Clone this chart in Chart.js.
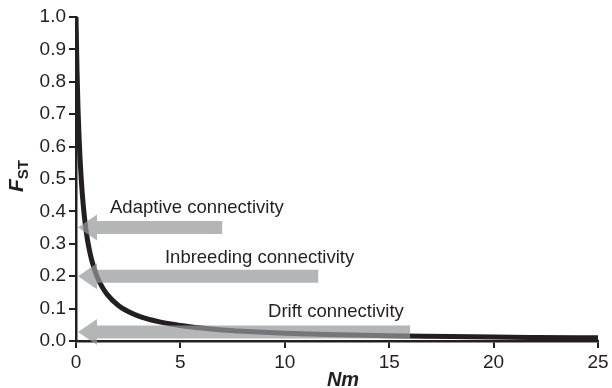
<!DOCTYPE html>
<html lang="en">
<head>
    <meta charset="UTF-8">
    <title>FST vs Nm</title>
    <script src="https://cdn.jsdelivr.net/npm/chart.js"></script>
    <style>
        html, body { margin: 0; padding: 0; background: white; }
        #wrap { width: 612px; height: 388px; }
    </style>
</head>
<body>
<div id="wrap"><canvas id="chart" width="612" height="388"></canvas></div>
<script>
    // curve
    const nmValues  = [0, 0.05, 0.1, 0.15, 0.2, 0.25, 0.3, 0.4, 0.5, 0.6, 0.75, 1, 1.25, 1.5, 2, 2.5, 3, 4, 5, 6, 7, 8, 10, 12, 15, 18, 20, 22, 25];
    const fstValues = [1.0, 0.83, 0.71, 0.625, 0.555, 0.5, 0.455, 0.385, 0.333, 0.294, 0.25, 0.2, 0.167, 0.143, 0.111, 0.091, 0.077, 0.059, 0.048, 0.04, 0.034, 0.03, 0.024, 0.02, 0.016, 0.014, 0.012, 0.011, 0.01];

    // arrows: level on the FST axis and where the shaft ends on Nm
    const arrowLabels = ["Adaptive connectivity", "Inbreeding connectivity", "Drift connectivity"];
    const arrowFst    = [0.35, 0.2, 0.028];
    const arrowEnd    = [7, 11.6, 16];
    const labelNm     = [1.63, 4.26, 9.2];
    const labelFst    = [0.412, 0.258, 0.089];

    const xTicks = [0, 5, 10, 15, 20, 25];
    const ink = '#231f20';
    const font = '"Liberation Sans", Arial, sans-serif';

    const arrowPlugin = {
        id: 'arrows',
        afterDatasetsDraw(chart) {
            const ctx = chart.ctx;
            const xs = chart.scales.x, ys = chart.scales.y;
            ctx.save();
            for (let i = 0; i < arrowFst.length; i++) {
                const y = ys.getPixelForValue(arrowFst[i]);
                const tip = xs.getPixelForValue(0) + 2;
                const end = xs.getPixelForValue(arrowEnd[i]);
                const headLen = 19, headHalf = 13, shaftHalf = 6.5;
                ctx.fillStyle = 'rgba(150,152,155,0.72)';
                ctx.beginPath();
                ctx.moveTo(tip, y);
                ctx.lineTo(tip + headLen, y - headHalf);
                ctx.lineTo(tip + headLen, y - shaftHalf);
                ctx.lineTo(end, y - shaftHalf);
                ctx.lineTo(end, y + shaftHalf);
                ctx.lineTo(tip + headLen, y + shaftHalf);
                ctx.lineTo(tip + headLen, y + headHalf);
                ctx.closePath();
                ctx.fill();

                ctx.fillStyle = ink;
                ctx.font = '18.5px ' + font;
                ctx.textAlign = 'left';
                ctx.textBaseline = 'middle';
                ctx.fillText(arrowLabels[i], xs.getPixelForValue(labelNm[i]), ys.getPixelForValue(labelFst[i]));
            }

            // axis titles
            ctx.fillStyle = ink;
            ctx.textBaseline = 'alphabetic';
            ctx.font = 'italic bold 20px ' + font;
            ctx.textAlign = 'center';
            ctx.fillText('Nm', (chart.chartArea.left + chart.chartArea.right) / 2 + 6, 386);

            ctx.translate(23, 180);
            ctx.rotate(-Math.PI / 2);
            ctx.textAlign = 'left';
            ctx.font = 'italic bold 21px ' + font;
            ctx.fillText('F', -12, 0);
            const fw = ctx.measureText('F').width;
            ctx.font = 'bold 15px ' + font;
            ctx.fillText('ST', -12 + fw, 5);
            ctx.restore();
        }
    };

    const ctx = document.getElementById('chart').getContext('2d');
    new Chart(ctx, {
        type: 'scatter',
        data: {
            datasets: [{
                data: nmValues.map((n, i) => ({ x: n, y: fstValues[i] })),
                showLine: true,
                borderColor: ink,
                borderWidth: 5,
                pointRadius: 0,
                cubicInterpolationMode: 'monotone',
                fill: false
            }]
        },
        options: {
            responsive: false,
            animation: false,
            layout: { padding: { top: 17, right: 14, left: 0, bottom: 0 } },
            plugins: { legend: { display: false }, tooltip: { enabled: false } },
            scales: {
                x: {
                    type: 'linear',
                    min: 0, max: 25,
                    afterFit: s => { s.height = 47; },
                    afterBuildTicks: s => { s.ticks = xTicks.map(v => ({ value: v })); },
                    grid: { drawOnChartArea: false, drawTicks: true, tickLength: 7, color: ink, lineWidth: 2 },
                    border: { display: true, color: ink, width: 2.5 },
                    ticks: { color: ink, font: { family: font, size: 19 }, padding: 3, maxRotation: 0 }
                },
                y: {
                    min: 0, max: 1,
                    afterFit: s => { s.width = 76; },
                    grid: { drawOnChartArea: false, drawTicks: true, tickLength: 7, color: ink, lineWidth: 2 },
                    border: { display: true, color: ink, width: 2.5 },
                    ticks: { stepSize: 0.1, color: ink, font: { family: font, size: 19 }, padding: 3,
                        callback: v => v.toFixed(1) }
                }
            }
        },
        plugins: [arrowPlugin]
    });
</script>
</body>
</html>
